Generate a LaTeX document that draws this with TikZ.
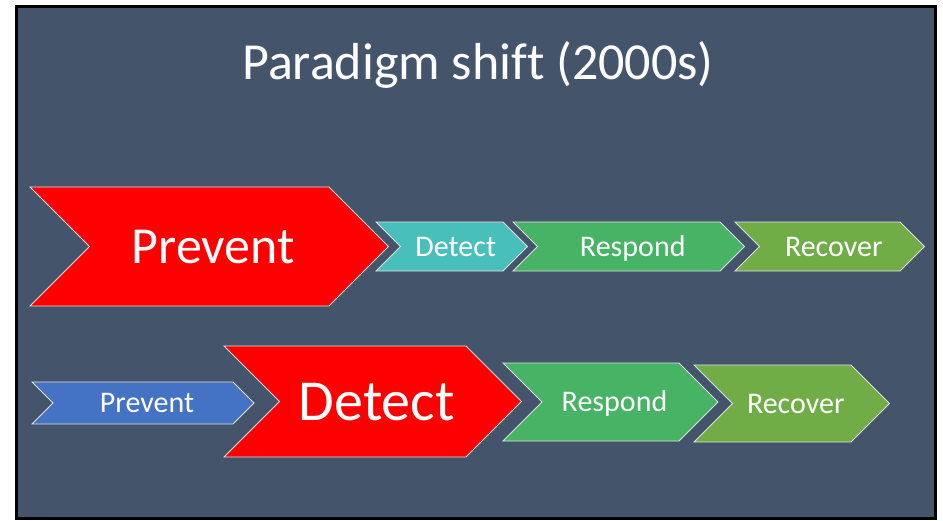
\documentclass[tikz,border=0pt]{standalone}
\usepackage{fontspec}
\setmainfont{Carlito}[Ligatures=CommonOff]
\usetikzlibrary{positioning}

\definecolor{slide}{HTML}{44546A}
\definecolor{hotred}{HTML}{FF0000}
\definecolor{teal}{HTML}{48BFBA}
\definecolor{midgreen}{HTML}{47B465}
\definecolor{olive}{HTML}{70AD47}
\definecolor{steel}{HTML}{4472C4}

% name, left x, top y, x of top right corner, height, fill, font size, text
\newcommand{\chevron}[8]{%
  \pgfmathsetmacro{\half}{#5/2}
  \draw[chev, fill=#6] (#2,#3) -- (#4,#3) -- ({#4+\half},{#3+\half}) -- (#4,{#3+#5})
      -- (#2,{#3+#5}) -- ({#2+\half},{#3+\half}) -- cycle;
  \node[lbl, font=\fontsize{#7}{#7}\selectfont, text height=0.64*#7pt]
    (#1) at ({(#2+#4)/2+\half/2+4},{#3+\half}) {#8};
}

\begin{document}
\begin{tikzpicture}[x=1pt,y=-1pt,
    chev/.style={draw=white!88!black, line width=0.8pt, line join=miter},
    lbl/.style={text=white, inner sep=0pt, anchor=center, text depth=0pt}]
  \useasboundingbox (0,0) rectangle (943,520);
  \draw[fill=slide, line width=3pt] (16.5,6.5) rectangle (935.5,518.5);

  \node[lbl, font=\fontsize{52}{60}\selectfont, text height=33pt] (title) at (478,63) {Paradigm shift (2000s)};

  % first row
  \chevron{prevA}{30}{187}{329}{119}{hotred}{52}{Prevent}
  \chevron{detA}{376}{222}{503}{49}{teal}{30}{Detect}
  \chevron{respA}{513}{222}{720}{49}{midgreen}{30}{Respond}
  \chevron{recA}{735}{222}{900}{49}{olive}{30}{Recover}

  % second row
  \chevron{prevB}{32}{382}{233}{42}{steel}{30}{Prevent}
  \chevron{detB}{224}{346}{466}{111}{hotred}{58}{Detect}
  \chevron{respB}{503}{363}{679}{78}{midgreen}{30}{Respond}
  \chevron{recB}{694}{365}{851}{77}{olive}{30}{Recover}
\end{tikzpicture}
\end{document}
